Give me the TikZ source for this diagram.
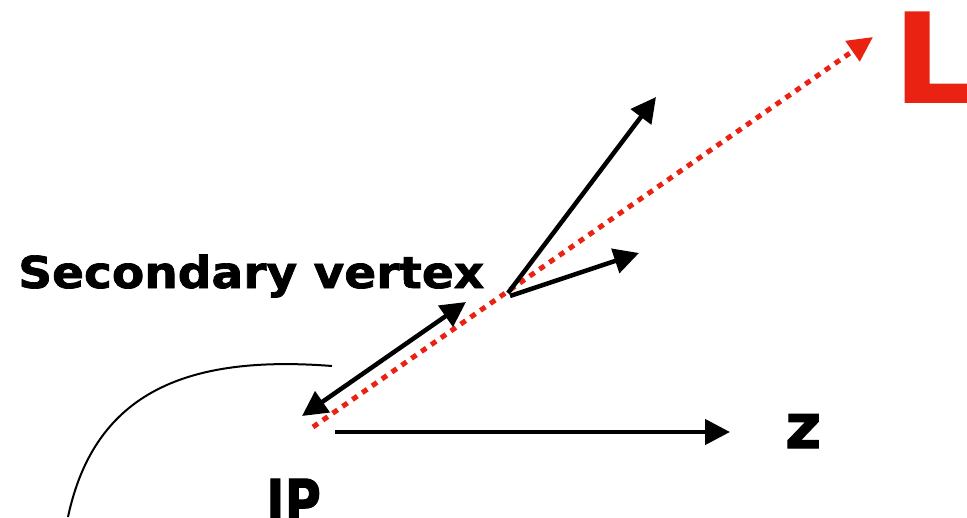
\documentclass[tikz,border=0pt]{standalone}
\usepackage{fontspec}
\newfontfamily\hvy[FakeBold=1.6]{DejaVu Sans Bold}
\usetikzlibrary{arrows.meta}
\definecolor{lred}{RGB}{234,34,18}
\begin{document}
\begin{tikzpicture}[x=1pt,y=-1pt,
  arr/.style={line width=4.5pt,-{Triangle[length=25pt,width=25pt]}},
  darr/.style={line width=4.5pt,{Triangle[length=25pt,width=25pt]}-{Triangle[length=25pt,width=25pt]}},
  redline/.style={lred,line width=5pt,dash pattern=on 6pt off 6pt,-{Triangle[length=25pt,width=24pt]}},
  lab/.style={inner sep=0pt,anchor=base west,font=\hvy\fontsize{#1}{#1}\selectfont}]
\useasboundingbox (0,0) rectangle (967,517);
% points
\coordinate (ipr) at (313,427);
\coordinate (lend) at (873,37);
\coordinate (sv) at (508,293);
\coordinate (sva) at (510,296);
\coordinate (t1) at (656,97);
\coordinate (t2) at (639,253);
\coordinate (da) at (302,416);
\coordinate (db) at (466,302);
\coordinate (zs) at (335,432);
\coordinate (ze) at (730,432);
\coordinate (ca) at (332,366);
\coordinate (cb) at (68,517);
% curve
\draw[line width=2pt] (ca) .. controls (190,355) and (95,390) .. (cb);
% red dotted L direction
\draw[redline] (ipr) -- (lend);
% arrows
\draw[arr] (sv) -- (t1);
\draw[arr] (sva) -- (t2);
\draw[darr] (da) -- (db);
\draw[arr] (zs) -- (ze);
% labels
\node[lab=44] (svl) at (18,288) {\scalebox{1.07}[1]{Secondary vertex}};
\node[lab=62] (zl) at (785,448) {z};
\node[lab=62] (ipl) at (266,524) {\scalebox{0.8}[1]{IP}};
\node[lab=123,text=lred] (ll) at (894,102) {L};
\end{tikzpicture}
\end{document}
